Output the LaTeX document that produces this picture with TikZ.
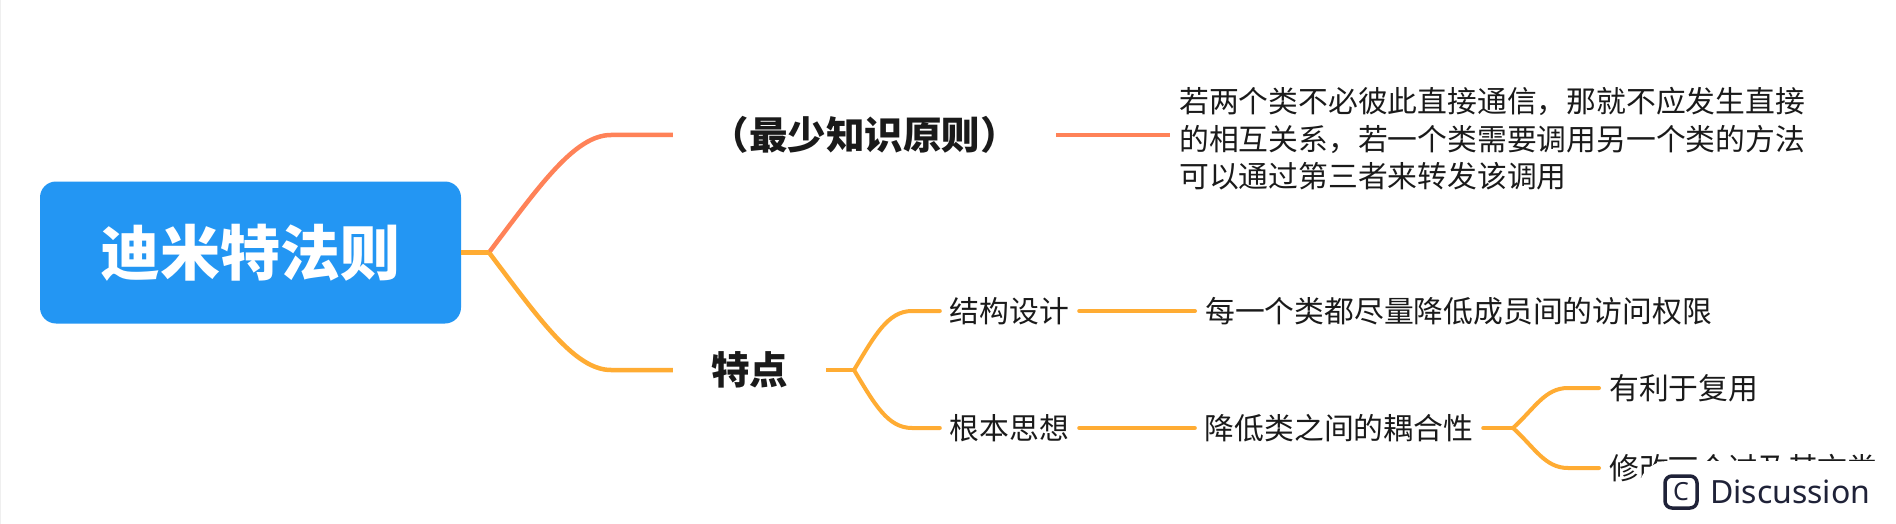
\documentclass[tikz,border=0pt]{standalone}
\usepackage{fontspec}
\setmainfont{Noto Sans CJK SC}
\newfontfamily\latinwm{Noto Sans}
\definecolor{rootblue}{HTML}{2396F3}
\definecolor{coral}{HTML}{FF8258}
\definecolor{amber}{HTML}{FFAC33}
\definecolor{ink}{HTML}{1A1A1A}
\definecolor{wmink}{HTML}{1F2238}
\definecolor{edgegray}{HTML}{EFEFEF}
\tikzset{
  rootnode/.style={fill=rootblue,text=white,rounded corners=16pt,minimum width=421pt,minimum height=142pt,inner sep=0pt,font=\fontsize{60}{60}\selectfont\bfseries},
  mainnode/.style={text=ink,inner xsep=0pt,inner ysep=2pt,font=\fontsize{38.5}{38.5}\selectfont\bfseries},
  leafnode/.style={text=ink,inner xsep=10pt,inner ysep=2pt,font=\fontsize{29.8}{37.5}\selectfont},
  linkcoral/.style={draw=coral,line width=4.5pt},
  linkamber/.style={draw=amber,line width=4.5pt},
  linksmall/.style={draw=amber,line width=4pt,line cap=round},
}
\begin{document}
\begin{tikzpicture}[x=1pt,y=-1pt]
\useasboundingbox (0,0) rectangle (1896,524);
\fill[white] (0,0) rectangle (1896,524);
\draw[edgegray,line width=1pt] (0.5,0) -- (0.5,524);
% nodes
\node[rootnode] (root) at (250.5,252.5) {迪米特法则};
\node[mainnode,minimum width=383pt] (law) at (864.5,135) {（最少知识原则）};
\node[leafnode,anchor=west,inner xsep=9pt,align=left] (desc) at (1170,139) {若两个类不必彼此直接通信，那就不应发生直接\\的相互关系，若一个类需要调用另一个类的方法\\可以通过第三者来转发该调用};
\node[mainnode,minimum width=153pt] (feat) at (749.5,370) {特点};
\node[leafnode,inner xsep=0pt,minimum width=139pt] (struct) at (1009.5,311) {结构设计};
\node[leafnode,inner xsep=0pt,minimum width=139pt] (idea) at (1009.5,428) {根本思想};
\node[leafnode,anchor=west] (rule) at (1195,311) {每一个类都尽量降低成员间的访问权限};
\node[leafnode,inner xsep=0pt,minimum width=288pt] (couple) at (1339,428) {降低类之间的耦合性};
\node[leafnode,anchor=west] (reuse) at (1599,388) {有利于复用};
\node[leafnode,anchor=west] (modify) at (1599,468) {修改\raisebox{9pt}{一}个过及其文类};
% branch points
\coordinate (b1) at (489,252.5);
\coordinate (b2) at (854,370);
\coordinate (b3) at (1513,428);
% connectors
\draw[linkcoral] (b1) .. controls (540,185) and (575,135) .. (611,135) -- (law.west);
\draw[linkamber] (b1) .. controls (540,320) and (575,370) .. (611,370) -- (feat.west);
\draw[linkamber] (root.east) -- (b1);
\draw[linkcoral] (law.east) -- (law.east -| desc.west);
\draw[linkamber] (feat.east) -- (b2);
\draw[linksmall] (b2) .. controls (875,335) and (888,311) .. (912,311) -- (struct.west);
\draw[linksmall] (b2) .. controls (875,405) and (888,428) .. (912,428) -- (idea.west);
\draw[linksmall] (struct.east) -- (rule.west);
\draw[linksmall] (idea.east) -- (couple.west);
\draw[linksmall] (couple.east) -- (b3);
\draw[linksmall] (b3) .. controls (1535,408) and (1545,388) .. (1568,388) -- (reuse.west);
\draw[linksmall] (b3) .. controls (1535,448) and (1545,468) .. (1568,468) -- (modify.west);
% overlay + watermark
\fill[white] (1896,524) -- (1638,524) [rounded corners=30pt] -- (1638,461) [sharp corners] -- (1896,461) -- cycle;
\node[draw=wmink,line width=3.5pt,rounded corners=7pt,minimum size=32pt,inner sep=0pt,text=wmink,font=\latinwm\fontsize{25}{25}\selectfont] (icon) at (1681,492) {C};
\node[anchor=west,inner sep=0pt,text=wmink,font=\latinwm\fontsize{32}{32}\selectfont] (wm) at (1710,492) {Discussion};
\end{tikzpicture}
\end{document}
